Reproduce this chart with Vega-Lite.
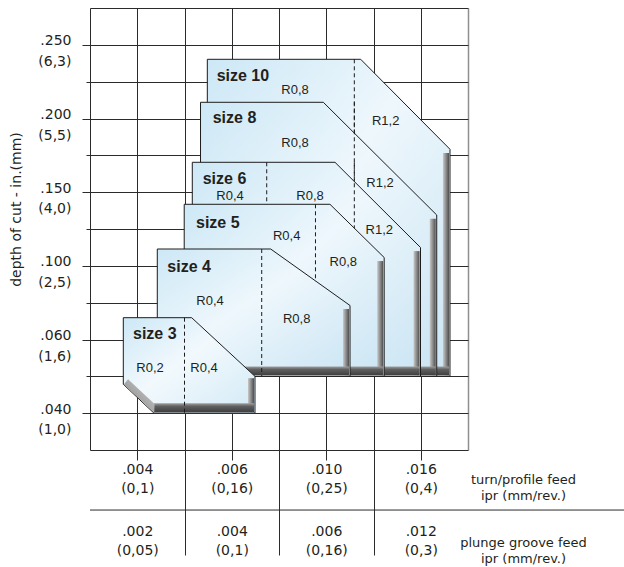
{
  "$schema": "https://vega.github.io/schema/vega-lite/v6.json",
  "width": 378,
  "height": 442,
  "autosize": "none",
  "padding": {"left": 90, "top": 8, "right": 156, "bottom": 117},
  "background": "white",
  "config": {"view": {"stroke": null}},
  "data": {"values": [
    {"k":"poly","s":"10","i":0,"u":2.483,"v":10.607},
    {"k":"poly","s":"10","i":1,"u":5.729,"v":10.607},
    {"k":"poly","s":"10","i":2,"u":7.619,"v":8.164},
    {"k":"poly","s":"10","i":3,"u":7.619,"v":2},
    {"k":"poly","s":"10","i":4,"u":2.483,"v":2},
    {"k":"poly","s":"8","i":0,"u":2.339,"v":9.44},
    {"k":"poly","s":"8","i":1,"u":4.938,"v":9.44},
    {"k":"poly","s":"8","i":2,"u":7.338,"v":6.38},
    {"k":"poly","s":"8","i":3,"u":7.338,"v":2},
    {"k":"poly","s":"8","i":4,"u":2.339,"v":2},
    {"k":"poly","s":"6","i":0,"u":2.165,"v":7.811},
    {"k":"poly","s":"6","i":1,"u":5.185,"v":7.811},
    {"k":"poly","s":"6","i":2,"u":6.995,"v":5.498},
    {"k":"poly","s":"6","i":3,"u":6.995,"v":2},
    {"k":"poly","s":"6","i":4,"u":2.165,"v":2},
    {"k":"poly","s":"5","i":0,"u":1.994,"v":6.671},
    {"k":"poly","s":"5","i":1,"u":5.079,"v":6.671},
    {"k":"poly","s":"5","i":2,"u":6.226,"v":5.226},
    {"k":"poly","s":"5","i":3,"u":6.226,"v":2},
    {"k":"poly","s":"5","i":4,"u":1.994,"v":2},
    {"k":"poly","s":"4","i":0,"u":1.424,"v":5.457},
    {"k":"poly","s":"4","i":1,"u":3.824,"v":5.457},
    {"k":"poly","s":"4","i":2,"u":5.503,"v":3.923},
    {"k":"poly","s":"4","i":3,"u":5.503,"v":2},
    {"k":"poly","s":"4","i":4,"u":1.424,"v":2},
    {"k":"poly","s":"3","i":0,"u":0.705,"v":3.592},
    {"k":"poly","s":"3","i":1,"u":2.152,"v":3.592},
    {"k":"poly","s":"3","i":2,"u":3.492,"v":2.0},
    {"k":"poly","s":"3","i":3,"u":3.492,"v":1},
    {"k":"poly","s":"3","i":4,"u":1.354,"v":1},
    {"k":"poly","s":"3","i":5,"u":0.705,"v":1.784},
    {"k":"sc","s":"3","i":0,"u":0.715,"v":1.78},
    {"k":"sc","s":"3","i":1,"u":1.36,"v":1.02},
    {"k":"sc","s":"3","i":2,"u":1.367,"v":1.249},
    {"k":"sc","s":"3","i":3,"u":0.806,"v":1.923},
    {"k":"sr","s":"10","u":7.47,"u2":7.598,"v":2.03,"v2":8.06},
    {"k":"sb","s":"10","u":2.5,"u2":7.598,"v":2.027,"v2":2.27},
    {"k":"sr","s":"8","u":7.19,"u2":7.317,"v":2.03,"v2":6.28},
    {"k":"sb","s":"8","u":2.36,"u2":7.317,"v":2.027,"v2":2.27},
    {"k":"sr","s":"6","u":6.847,"u2":6.974,"v":2.03,"v2":5.4},
    {"k":"sb","s":"6","u":2.18,"u2":6.974,"v":2.027,"v2":2.27},
    {"k":"sr","s":"5","u":6.078,"u2":6.205,"v":2.03,"v2":5.13},
    {"k":"sb","s":"5","u":2.01,"u2":6.205,"v":2.027,"v2":2.27},
    {"k":"sr","s":"4","u":5.355,"u2":5.482,"v":2.03,"v2":3.83},
    {"k":"sb","s":"4","u":1.44,"u2":5.482,"v":2.027,"v2":2.27},
    {"k":"sr","s":"3","u":3.344,"u2":3.471,"v":1.03,"v2":1.95},
    {"k":"sb","s":"3","u":1.354,"u2":3.471,"v":1.027,"v2":1.27},
    {"k":"dash","s":"10","u":5.594,"v":10.607,"v2":2},
    {"k":"dash","s":"8","u":5.594,"v":9.44,"v2":2},
    {"k":"dash","s":"6","u":5.594,"v":7.811,"v2":2},
    {"k":"dash","s":"6","u":3.74,"v":7.811,"v2":2},
    {"k":"dash","s":"5","u":4.772,"v":6.671,"v2":2},
    {"k":"dash","s":"4","u":3.634,"v":5.457,"v2":2},
    {"k":"dash","s":"3","u":2.0,"v":3.592,"v2":1},
    {"k":"div","u":0,"u2":11.4,"v":-1.63},
    {"k":"st","s":"10","t":"size 10","u":2.681,"v":10.154},
    {"k":"st","s":"8","t":"size 8","u":2.597,"v":9.005},
    {"k":"st","s":"6","t":"size 6","u":2.385,"v":7.35},
    {"k":"st","s":"5","t":"size 5","u":2.243,"v":6.155},
    {"k":"st","s":"4","t":"size 4","u":1.636,"v":4.96},
    {"k":"st","s":"3","t":"size 3","u":0.91,"v":3.149},
    {"k":"r","s":"10","t":"R0,8","u":4.339,"v":9.774},
    {"k":"r","s":"10","t":"R1,2","u":6.258,"v":8.932},
    {"k":"r","s":"8","t":"R0,8","u":4.339,"v":8.343},
    {"k":"r","s":"8","t":"R1,2","u":6.138,"v":7.241},
    {"k":"r","s":"6","t":"R0,4","u":2.963,"v":6.904},
    {"k":"r","s":"6","t":"R0,8","u":4.656,"v":6.904},
    {"k":"r","s":"6","t":"R1,2","u":6.123,"v":5.973},
    {"k":"r","s":"5","t":"R0,4","u":4.163,"v":5.818},
    {"k":"r","s":"5","t":"R0,8","u":5.361,"v":5.112},
    {"k":"r","s":"4","t":"R0,4","u":2.54,"v":4.045},
    {"k":"r","s":"4","t":"R0,8","u":4.375,"v":3.548},
    {"k":"r","s":"3","t":"R0,2","u":1.27,"v":2.234},
    {"k":"r","s":"3","t":"R0,4","u":2.413,"v":2.234}
  ]},
  "resolve": {"axis": {"x": "independent"}},
  "encoding": {
    "y": {"field": "v", "type": "quantitative",
      "scale": {"domain": [0, 12], "nice": false, "zero": false},
      "axis": {
        "values": [0,1,2,3,4,5,6,7,8,9,10,11,12],
        "grid": true,
        "gridColor": "#2b2b2b",
        "gridWidth": 1,
        "domain": false,
        "tickColor": "#2b2b2b",
        "tickSize": {"condition": {"test": "datum.value % 2 == 1", "value": 8}, "value": 4},
        "tickOpacity": {"condition": {"test": "datum.value == 0 || datum.value == 12", "value": 0}, "value": 1},
        "labelExpr": "datum.value == 1 ? ['.040','(1,0)'] : datum.value == 3 ? ['.060','(1,6)'] : datum.value == 5 ? ['.100','(2,5)'] : datum.value == 7 ? ['.150','(4,0)'] : datum.value == 9 ? ['.200','(5,5)'] : datum.value == 11 ? ['.250','(6,3)'] : ''",
        "labelAlign": "right",
        "labelBaseline": "alphabetic",
        "labelPadding": 11,
        "labelLineHeight": 20.5,
        "labelFont": "DejaVu Sans",
        "labelFontSize": 14,
        "labelColor": "#231f20",
        "labelOverlap": false,
        "labelFlush": false,
        "title": "depth of cut - in.(mm)",
        "titleFont": "DejaVu Sans",
        "titleFontSize": 14,
        "titleFontWeight": "normal",
        "titleColor": "#231f20",
        "titleX": -70,
        "titleY": 201,
        "titleAngle": 270,
        "titleAlign": "center",
        "titleBaseline": "alphabetic"
      }
    }
  },
  "layer": [
  {
  "encoding": {
    "x": {"field": "u", "type": "quantitative",
      "scale": {"domain": [0, 8], "nice": false, "zero": false},
      "axis": {
        "orient": "bottom",
        "values": [0,1,2,3,4,5,6,7,8],
        "grid": true,
        "gridColor": {"condition": {"test": "datum.value == 8", "value": "#8f8f8f"}, "value": "#2b2b2b"},
        "gridWidth": {"condition": {"test": "datum.value == 8", "value": 1.5}, "value": 1},
        "domain": false,
        "tickColor": "#2b2b2b",
        "tickSize": {"condition": {"test": "datum.value % 2 == 0", "value": 105}, "value": 10},
        "tickOpacity": {"condition": {"test": "datum.value == 0 || datum.value == 8", "value": 0}, "value": 1},
        "labelExpr": "datum.value == 1 ? ['.004','(0,1)'] : datum.value == 3 ? ['.006','(0,16)'] : datum.value == 5 ? ['.010','(0,25)'] : datum.value == 7 ? ['.016','(0,4)'] : ''",
        "labelAlign": "center",
        "labelBaseline": "alphabetic",
        "labelPadding": 13,
        "labelLineHeight": 19,
        "labelFont": "DejaVu Sans",
        "labelFontSize": 14,
        "labelColor": "#231f20",
        "labelOverlap": false,
        "labelFlush": false,
        "title": ["turn/profile feed", "ipr (mm/rev.)"],
        "titleFont": "DejaVu Sans",
        "titleFontSize": 13,
        "titleFontWeight": "normal",
        "titleColor": "#231f20",
        "titleX": 433,
        "titleY": 33,
        "titleAlign": "center",
        "titleBaseline": "alphabetic",
        "titleLineHeight": 16
      }
    }
  },
  "layer": [
    {"transform": [{"filter": "datum.k == 'poly' && datum.s == '10'"}],
     "mark": {"type": "line", "interpolate": "linear-closed", "stroke": "#1c1c1c", "strokeWidth": 1,
       "fill": {"gradient": "linear", "x1": 0, "y1": 0, "x2": 1, "y2": 1, "stops": [{"offset": 0, "color": "#cde8f6"}, {"offset": 0.45, "color": "#eef7fc"}, {"offset": 1, "color": "#cbe5f4"}]}},
     "encoding": {"order": {"field": "i", "type": "quantitative"}}},
    {"transform": [{"filter": "datum.k == 'sr' && datum.s == '10'"}],
     "mark": {"type": "rect", "fill": {"gradient": "linear", "x1": 0, "y1": 0, "x2": 1, "y2": 0, "stops": [{"offset": 0, "color": "#c8c8c8"}, {"offset": 0.5, "color": "#8c8c8c"}, {"offset": 1, "color": "#4e4e4e"}]}},
     "encoding": {"x2": {"field": "u2"}, "y2": {"field": "v2"}}},
    {"transform": [{"filter": "datum.k == 'sb' && datum.s == '10'"}],
     "mark": {"type": "rect", "fill": {"gradient": "linear", "x1": 0, "y1": 0, "x2": 0, "y2": 1, "stops": [{"offset": 0, "color": "#a0a0a0"}, {"offset": 0.35, "color": "#5f5f5f"}, {"offset": 1, "color": "#3e3e3e"}]}},
     "encoding": {"x2": {"field": "u2"}, "y2": {"field": "v2"}}},
    {"transform": [{"filter": "datum.k == 'dash' && datum.s == '10'"}],
     "mark": {"type": "rule", "color": "#1c1c1c", "strokeWidth": 1, "strokeDash": [4, 3]},
     "encoding": {"y2": {"field": "v2"}}},

    {"transform": [{"filter": "datum.k == 'poly' && datum.s == '8'"}],
     "mark": {"type": "line", "interpolate": "linear-closed", "stroke": "#1c1c1c", "strokeWidth": 1,
       "fill": {"gradient": "linear", "x1": 0, "y1": 0, "x2": 1, "y2": 1, "stops": [{"offset": 0, "color": "#cde8f6"}, {"offset": 0.45, "color": "#eef7fc"}, {"offset": 1, "color": "#cbe5f4"}]}},
     "encoding": {"order": {"field": "i", "type": "quantitative"}}},
    {"transform": [{"filter": "datum.k == 'sr' && datum.s == '8'"}],
     "mark": {"type": "rect", "fill": {"gradient": "linear", "x1": 0, "y1": 0, "x2": 1, "y2": 0, "stops": [{"offset": 0, "color": "#c8c8c8"}, {"offset": 0.5, "color": "#8c8c8c"}, {"offset": 1, "color": "#4e4e4e"}]}},
     "encoding": {"x2": {"field": "u2"}, "y2": {"field": "v2"}}},
    {"transform": [{"filter": "datum.k == 'sb' && datum.s == '8'"}],
     "mark": {"type": "rect", "fill": {"gradient": "linear", "x1": 0, "y1": 0, "x2": 0, "y2": 1, "stops": [{"offset": 0, "color": "#a0a0a0"}, {"offset": 0.35, "color": "#5f5f5f"}, {"offset": 1, "color": "#3e3e3e"}]}},
     "encoding": {"x2": {"field": "u2"}, "y2": {"field": "v2"}}},
    {"transform": [{"filter": "datum.k == 'dash' && datum.s == '8'"}],
     "mark": {"type": "rule", "color": "#1c1c1c", "strokeWidth": 1, "strokeDash": [4, 3]},
     "encoding": {"y2": {"field": "v2"}}},

    {"transform": [{"filter": "datum.k == 'poly' && datum.s == '6'"}],
     "mark": {"type": "line", "interpolate": "linear-closed", "stroke": "#1c1c1c", "strokeWidth": 1,
       "fill": {"gradient": "linear", "x1": 0, "y1": 0, "x2": 1, "y2": 1, "stops": [{"offset": 0, "color": "#cde8f6"}, {"offset": 0.45, "color": "#eef7fc"}, {"offset": 1, "color": "#cbe5f4"}]}},
     "encoding": {"order": {"field": "i", "type": "quantitative"}}},
    {"transform": [{"filter": "datum.k == 'sr' && datum.s == '6'"}],
     "mark": {"type": "rect", "fill": {"gradient": "linear", "x1": 0, "y1": 0, "x2": 1, "y2": 0, "stops": [{"offset": 0, "color": "#c8c8c8"}, {"offset": 0.5, "color": "#8c8c8c"}, {"offset": 1, "color": "#4e4e4e"}]}},
     "encoding": {"x2": {"field": "u2"}, "y2": {"field": "v2"}}},
    {"transform": [{"filter": "datum.k == 'sb' && datum.s == '6'"}],
     "mark": {"type": "rect", "fill": {"gradient": "linear", "x1": 0, "y1": 0, "x2": 0, "y2": 1, "stops": [{"offset": 0, "color": "#a0a0a0"}, {"offset": 0.35, "color": "#5f5f5f"}, {"offset": 1, "color": "#3e3e3e"}]}},
     "encoding": {"x2": {"field": "u2"}, "y2": {"field": "v2"}}},
    {"transform": [{"filter": "datum.k == 'dash' && datum.s == '6'"}],
     "mark": {"type": "rule", "color": "#1c1c1c", "strokeWidth": 1, "strokeDash": [4, 3]},
     "encoding": {"y2": {"field": "v2"}}},

    {"transform": [{"filter": "datum.k == 'poly' && datum.s == '5'"}],
     "mark": {"type": "line", "interpolate": "linear-closed", "stroke": "#1c1c1c", "strokeWidth": 1,
       "fill": {"gradient": "linear", "x1": 0, "y1": 0, "x2": 1, "y2": 1, "stops": [{"offset": 0, "color": "#cde8f6"}, {"offset": 0.45, "color": "#eef7fc"}, {"offset": 1, "color": "#cbe5f4"}]}},
     "encoding": {"order": {"field": "i", "type": "quantitative"}}},
    {"transform": [{"filter": "datum.k == 'sr' && datum.s == '5'"}],
     "mark": {"type": "rect", "fill": {"gradient": "linear", "x1": 0, "y1": 0, "x2": 1, "y2": 0, "stops": [{"offset": 0, "color": "#c8c8c8"}, {"offset": 0.5, "color": "#8c8c8c"}, {"offset": 1, "color": "#4e4e4e"}]}},
     "encoding": {"x2": {"field": "u2"}, "y2": {"field": "v2"}}},
    {"transform": [{"filter": "datum.k == 'sb' && datum.s == '5'"}],
     "mark": {"type": "rect", "fill": {"gradient": "linear", "x1": 0, "y1": 0, "x2": 0, "y2": 1, "stops": [{"offset": 0, "color": "#a0a0a0"}, {"offset": 0.35, "color": "#5f5f5f"}, {"offset": 1, "color": "#3e3e3e"}]}},
     "encoding": {"x2": {"field": "u2"}, "y2": {"field": "v2"}}},
    {"transform": [{"filter": "datum.k == 'dash' && datum.s == '5'"}],
     "mark": {"type": "rule", "color": "#1c1c1c", "strokeWidth": 1, "strokeDash": [4, 3]},
     "encoding": {"y2": {"field": "v2"}}},

    {"transform": [{"filter": "datum.k == 'poly' && datum.s == '4'"}],
     "mark": {"type": "line", "interpolate": "linear-closed", "stroke": "#1c1c1c", "strokeWidth": 1,
       "fill": {"gradient": "linear", "x1": 0, "y1": 0, "x2": 1, "y2": 1, "stops": [{"offset": 0, "color": "#cde8f6"}, {"offset": 0.45, "color": "#eef7fc"}, {"offset": 1, "color": "#cbe5f4"}]}},
     "encoding": {"order": {"field": "i", "type": "quantitative"}}},
    {"transform": [{"filter": "datum.k == 'sr' && datum.s == '4'"}],
     "mark": {"type": "rect", "fill": {"gradient": "linear", "x1": 0, "y1": 0, "x2": 1, "y2": 0, "stops": [{"offset": 0, "color": "#c8c8c8"}, {"offset": 0.5, "color": "#8c8c8c"}, {"offset": 1, "color": "#4e4e4e"}]}},
     "encoding": {"x2": {"field": "u2"}, "y2": {"field": "v2"}}},
    {"transform": [{"filter": "datum.k == 'sb' && datum.s == '4'"}],
     "mark": {"type": "rect", "fill": {"gradient": "linear", "x1": 0, "y1": 0, "x2": 0, "y2": 1, "stops": [{"offset": 0, "color": "#a0a0a0"}, {"offset": 0.35, "color": "#5f5f5f"}, {"offset": 1, "color": "#3e3e3e"}]}},
     "encoding": {"x2": {"field": "u2"}, "y2": {"field": "v2"}}},
    {"transform": [{"filter": "datum.k == 'dash' && datum.s == '4'"}],
     "mark": {"type": "rule", "color": "#1c1c1c", "strokeWidth": 1, "strokeDash": [4, 3]},
     "encoding": {"y2": {"field": "v2"}}},

    {"transform": [{"filter": "datum.k == 'poly' && datum.s == '3'"}],
     "mark": {"type": "line", "interpolate": "linear-closed", "stroke": "#1c1c1c", "strokeWidth": 1,
       "fill": {"gradient": "linear", "x1": 0, "y1": 0, "x2": 1, "y2": 1, "stops": [{"offset": 0, "color": "#cde8f6"}, {"offset": 0.45, "color": "#f2f9fd"}, {"offset": 1, "color": "#d3eaf6"}]}},
     "encoding": {"order": {"field": "i", "type": "quantitative"}}},
    {"transform": [{"filter": "datum.k == 'sr' && datum.s == '3'"}],
     "mark": {"type": "rect", "fill": {"gradient": "linear", "x1": 0, "y1": 0, "x2": 1, "y2": 0, "stops": [{"offset": 0, "color": "#c8c8c8"}, {"offset": 0.5, "color": "#8c8c8c"}, {"offset": 1, "color": "#4e4e4e"}]}},
     "encoding": {"x2": {"field": "u2"}, "y2": {"field": "v2"}}},
    {"transform": [{"filter": "datum.k == 'sb' && datum.s == '3'"}],
     "mark": {"type": "rect", "fill": {"gradient": "linear", "x1": 0, "y1": 0, "x2": 0, "y2": 1, "stops": [{"offset": 0, "color": "#a0a0a0"}, {"offset": 0.35, "color": "#5f5f5f"}, {"offset": 1, "color": "#3e3e3e"}]}},
     "encoding": {"x2": {"field": "u2"}, "y2": {"field": "v2"}}},
    {"transform": [{"filter": "datum.k == 'sc' && datum.s == '3'"}],
     "mark": {"type": "line", "interpolate": "linear-closed", "strokeWidth": 0,
       "fill": {"gradient": "linear", "x1": 1, "y1": 0, "x2": 0, "y2": 1, "stops": [{"offset": 0, "color": "#d6d6d6"}, {"offset": 1, "color": "#7a7a7a"}]}},
     "encoding": {"order": {"field": "i", "type": "quantitative"}}},
    {"transform": [{"filter": "datum.k == 'dash' && datum.s == '3'"}],
     "mark": {"type": "rule", "color": "#1c1c1c", "strokeWidth": 1, "strokeDash": [4, 3]},
     "encoding": {"y2": {"field": "v2"}}},

    {"transform": [{"filter": "datum.k == 'st'"}],
     "mark": {"type": "text", "align": "left", "baseline": "middle", "font": "Liberation Sans", "fontSize": 16, "fontWeight": "bold", "color": "#231f20"},
     "encoding": {"text": {"field": "t"}}},
    {"transform": [{"filter": "datum.k == 'r'"}],
     "mark": {"type": "text", "align": "center", "baseline": "middle", "font": "Liberation Sans", "fontSize": 13, "color": "#231f20"},
     "encoding": {"text": {"field": "t"}}}
  ]
  },
  {"transform": [{"filter": "datum.k == 'div'"}],
   "mark": {"type": "rule", "color": "#2b2b2b", "strokeWidth": 1},
   "encoding": {
     "x": {"field": "u", "type": "quantitative",
       "scale": {"domain": [0, 8], "nice": false, "zero": false},
       "axis": {
         "orient": "bottom",
         "values": [1, 3, 5, 7],
         "grid": false,
         "domain": false,
         "ticks": true,
         "tickSize": 10,
         "tickOpacity": 0,
         "labelExpr": "datum.value == 1 ? ['.002','(0,05)'] : datum.value == 3 ? ['.004','(0,1)'] : datum.value == 5 ? ['.006','(0,16)'] : datum.value == 7 ? ['.012','(0,3)'] : ''",
         "labelAlign": "center",
         "labelBaseline": "alphabetic",
         "labelPadding": 75,
         "labelLineHeight": 19,
         "labelFont": "DejaVu Sans",
         "labelFontSize": 14,
         "labelColor": "#231f20",
         "labelOverlap": false,
         "labelFlush": false,
         "title": ["plunge groove feed", "ipr (mm/rev.)"],
         "titleFont": "DejaVu Sans",
         "titleFontSize": 13,
         "titleFontWeight": "normal",
         "titleColor": "#231f20",
         "titleX": 433,
         "titleY": 96,
         "titleAlign": "center",
         "titleBaseline": "alphabetic",
         "titleLineHeight": 16
       }
     },
     "x2": {"field": "u2"}
   }
  }
  ]
}
